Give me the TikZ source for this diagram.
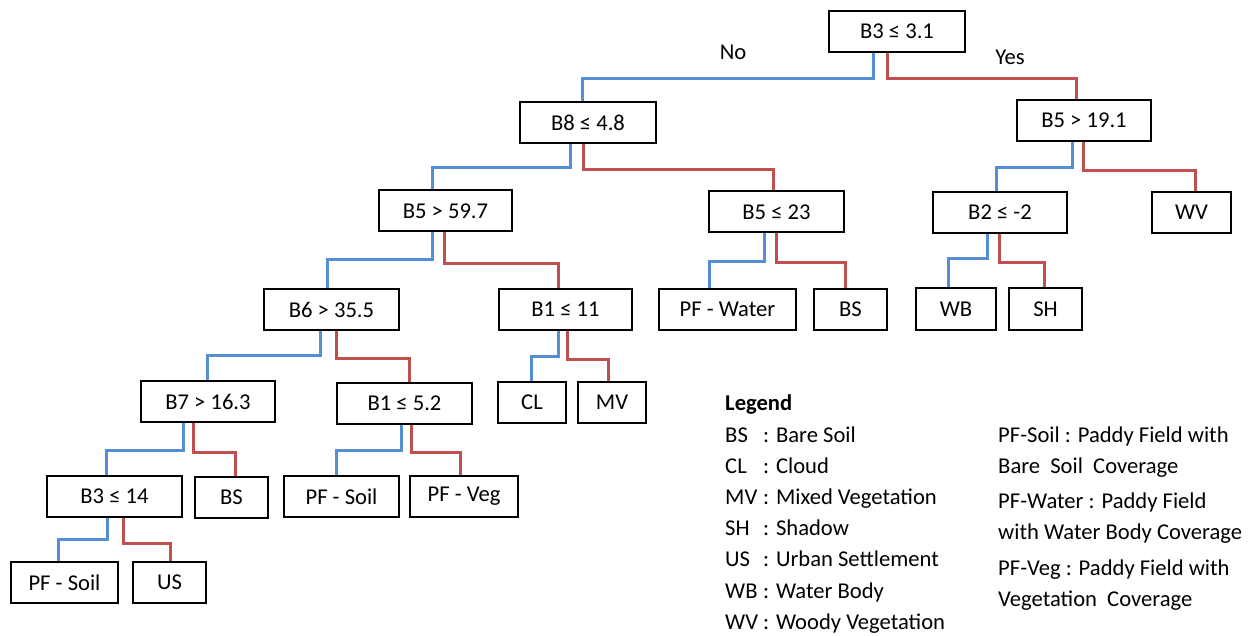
\documentclass[tikz,border=0pt]{standalone}
\usepackage{fontspec}
\setmainfont{Carlito}
\usetikzlibrary{positioning}

\begin{document}
\begin{tikzpicture}[x=1pt,y=-1pt,
    test/.style={rectangle, draw, line width=2pt, minimum width=135pt, minimum height=41pt, inner sep=0pt},
    leaf/.style={rectangle, draw, line width=2pt, minimum height=41pt, inner sep=0pt},
    no/.style={draw={rgb,255:red,85;green,142;blue,213}, line width=3pt},
    yes/.style={draw={rgb,255:red,192;green,80;blue,77}, line width=3pt},
    key/.style={anchor=base west, inner sep=0pt},
    font=\fontsize{22.6}{26}\selectfont]
      \useasboundingbox (0,0) rectangle (1250,636);

      % decision nodes
      \node at(897,31.5) [test, minimum width=136pt] (root) {B3 ≤ 3.1};
      \node at(588,123) [test, minimum width=136pt] (b8) {B8 ≤ 4.8};
      \node at(1084,120.5) [test, minimum width=134pt] (b5r) {B5 > 19.1};
      \node at(1000,212.5) [test, minimum width=134pt] (b2) {B2 ≤ -2};
      \node at(776.5,212) [test] (b5m) {B5 ≤ 23};
      \node at(445.5,211) [test, minimum width=133pt] (b5l) {B5 > 59.7};
      \node at(565.5,309.5) [test, minimum width=133pt] (b1a) {B1 ≤ 11};
      \node at(331.5,309.5) [test] (b6) {B6 > 35.5};
      \node at(404.5,403) [test] (b1b) {B1 ≤ 5.2};
      \node at(208,401.5) [test, minimum width=134pt] (b7) {B7 > 16.3};
      \node at(114.5,496.5) [test] (b3) {B3 ≤ 14};

      % classes
      \node at(1191.5,212.5) [leaf, minimum width=79pt] (wv) {WV};
      \node at(956,309) [leaf, minimum width=80pt] (wb) {WB};
      \node at(1045.5,309) [leaf, minimum width=73pt] (sh) {SH};
      \node at(727.5,309.5) [leaf, minimum width=137pt] (pfwater) {PF - Water};
      \node at(850.5,309.5) [leaf, minimum width=73pt] (bs-a) {BS};
      \node at(532,402.5) [leaf, minimum width=68pt] (cl) {CL};
      \node at(612,402.5) [leaf, minimum width=68pt] (mv) {MV};
      \node at(341.5,496.5) [leaf, minimum width=115pt] (pfsoil-a) {PF - Soil};
      \node at(464,496.5) [leaf, minimum width=108pt] (pfveg) {PF - Veg};
      \node at(231.5,497) [leaf, minimum width=73pt] (bs-b) {BS};
      \node at(64.5,582.5) [leaf, minimum width=107pt] (pfsoil-b) {PF - Soil};
      \node at(169.5,582.5) [leaf, minimum width=73pt] (us) {US};

      \node at(733,52) (no-label) {No};
      \node at(1010,57) (yes-label) {Yes};

      % branches
      \draw[no]  ([xshift=-24pt]root.south) -- ++(0,26) -| ([xshift=-6pt]b8.north);
      \draw[yes] ([xshift=-10pt]root.south) -- ++(0,26) -| ([xshift=-8pt]b5r.north);
      \draw[no]  ([xshift=-18pt]b8.south) -- ++(0,23.5) -| ([xshift=-13.5pt]b5l.north);
      \draw[yes] ([xshift=-5pt]b8.south) -- ++(0,25.5) -| ([xshift=-3.5pt]b5m.north);
      \draw[no]  ([xshift=-12pt]b5r.south) -- ++(0,26) -| ([xshift=-4pt]b2.north);
      \draw[yes] ([xshift=-1pt]b5r.south) -- ++(0,29) -| ([xshift=3.5pt]wv.north);
      \draw[no]  ([xshift=-13pt]b2.south) -- ++(0,25) -| ([xshift=-8pt]wb.north);
      \draw[yes] ([xshift=-1pt]b2.south) -- ++(0,29) -| ([xshift=-1.5pt]sh.north);
      \draw[no]  ([xshift=-12.5pt]b5m.south) -- ++(0,28.5) -| ([xshift=-18.5pt]pfwater.north);
      \draw[yes] ([xshift=-0.5pt]b5m.south) -- ++(0,29.5) -| ([xshift=-5.5pt]bs-a.north);
      \draw[no]  ([xshift=-13.5pt]b5l.south) -- ++(0,27.5) -| ([xshift=-4.5pt]b6.north);
      \draw[yes] ([xshift=-1.5pt]b5l.south) -- ++(0,31.5) -| ([xshift=-7.5pt]b1a.north);
      \draw[no]  ([xshift=-7.5pt]b1a.south) -- ++(0,25) -| ([xshift=-1pt]cl.north);
      \draw[yes] ([xshift=1.5pt]b1a.south) -- ++(0,28) -| ([xshift=-4pt]mv.north);
      \draw[no]  ([xshift=-11.5pt]b6.south) -- ++(0,24) -| ([xshift=-1pt]b7.north);
      \draw[yes] ([xshift=4.5pt]b6.south) -- ++(0,27) -| ([xshift=4.5pt]b1b.north);
      \draw[no]  ([xshift=-3.5pt]b1b.south) -- ++(0,25.5) -| ([xshift=-5.5pt]pfsoil-a.north);
      \draw[yes] ([xshift=6.5pt]b1b.south) -- ++(0,27.5) -| ([xshift=-4pt]pfveg.north);
      \draw[no]  ([xshift=-25pt]b7.south) -- ++(0,27) -| ([xshift=-8.5pt]b3.north);
      \draw[yes] ([xshift=-15pt]b7.south) -- ++(0,29) -| ([xshift=3.5pt]bs-b.north);
      \draw[no]  ([xshift=-7.5pt]b3.south) -- ++(0,21) -| ([xshift=-6.5pt]pfsoil-b.north);
      \draw[yes] ([xshift=8.5pt]b3.south) -- ++(0,25) -| ([xshift=0.5pt]us.north);

      % legend
      \node at(725,410) [key] (legend) {\bfseries Legend};
      \node at(725,442) [key] (key-bs) {\makebox[38pt][l]{BS}: Bare Soil};
      \node at(725,473) [key] (key-cl) {\makebox[38pt][l]{CL}: Cloud};
      \node at(725,504) [key] (key-mv) {\makebox[38pt][l]{MV}: Mixed Vegetation};
      \node at(725,535) [key] (key-sh) {\makebox[38pt][l]{SH}: Shadow};
      \node at(725,566) [key] (key-us) {\makebox[38pt][l]{US}: Urban Settlement};
      \node at(725,598) [key] (key-wb) {\makebox[38pt][l]{WB}: Water Body};
      \node at(725,629) [key] (key-wv) {\makebox[38pt][l]{WV}: Woody Vegetation};
      \node at(998,442) [key] (key-pfs) {PF-Soil : Paddy Field with};
      \node at(998,473) [key] (key-pfs2) {Bare\ \ Soil\ \ Coverage};
      \node at(998,508) [key] (key-pfw) {PF-Water : Paddy Field};
      \node at(998,539) [key] (key-pfw2) {with Water Body Coverage};
      \node at(998,575) [key] (key-pfv) {PF-Veg : Paddy Field with};
      \node at(998,606) [key] (key-pfv2) {Vegetation\ \ Coverage};
\end{tikzpicture}
\end{document}
